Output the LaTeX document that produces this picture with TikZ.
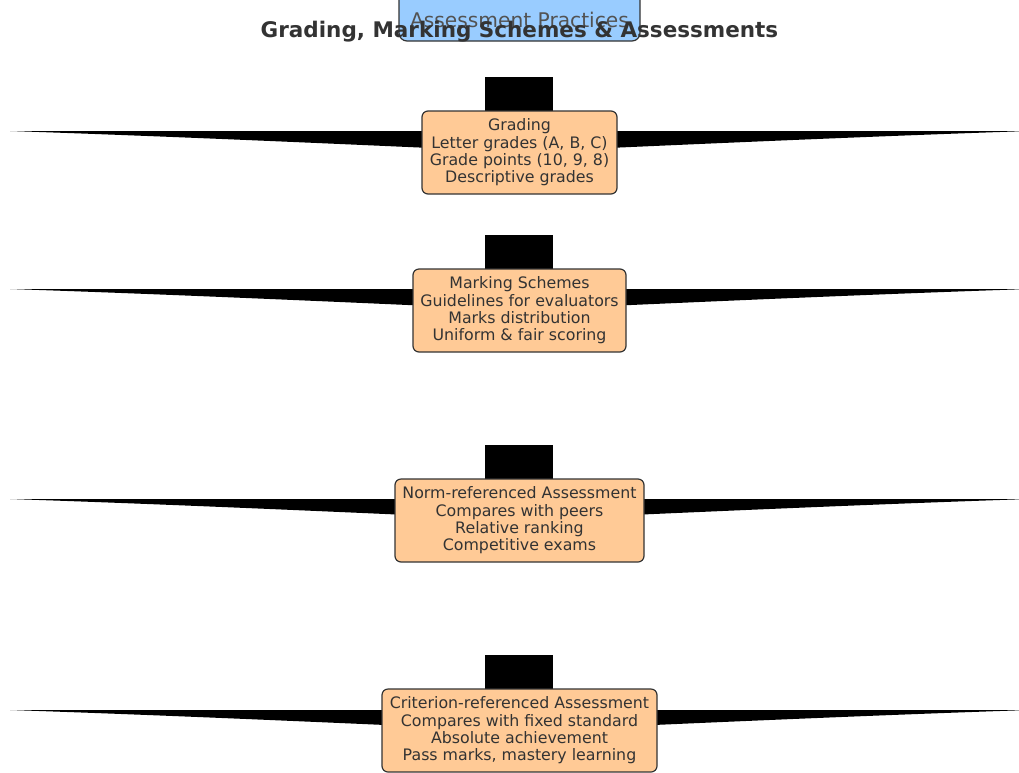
\documentclass[tikz,border=0pt]{standalone}
\usepackage{fontspec}
\setmainfont{DejaVu Sans}
\definecolor{boxorange}{HTML}{FFCA96}
\definecolor{boxblue}{HTML}{99CCFF}
\definecolor{txt}{HTML}{333333}
\begin{document}
\begin{tikzpicture}[x=1pt,y=-1pt,
  card/.style={draw=txt, line width=1.2pt, fill=boxorange, rounded corners=6pt,
    minimum height=83pt, inner sep=0pt, align=center, text=txt,
    font=\fontsize{15.8}{17.4}\selectfont},
  stem/.style={fill=black},
  wedge/.style={fill=black}]
\useasboundingbox (0,0) rectangle (1019,772);
\clip (0,0) rectangle (1019,772);
% wedges
\foreach \t in {131,289,499,710}{
  \fill[wedge] (10,\t) -- (519.5,\t) -- (519.5,\t+21) .. controls (320,\t+12) and (160,\t+5) .. (10,\t) -- cycle;
  \fill[wedge] (1029,\t) -- (519.5,\t) -- (519.5,\t+21) .. controls (719,\t+12) and (879,\t+5) .. (1029,\t) -- cycle;
}
% stems
\foreach \s in {77,235,445,655}{
  \fill[stem] (485,\s) rectangle (553,\s+34);
}
\node[card, minimum width=195pt] (grading) at (519.5,152.5) {Grading\\Letter grades (A, B, C)\\Grade points (10, 9, 8)\\Descriptive grades};
\node[card, minimum width=213pt] (marking) at (519.5,310.5) {Marking Schemes\\Guidelines for evaluators\\Marks distribution\\Uniform \& fair scoring};
\node[card, minimum width=249pt] (norm) at (519.5,520.5) {Norm-referenced Assessment\\Compares with peers\\Relative ranking\\Competitive exams};
\node[card, minimum width=275pt] (crit) at (519.5,730.5) {Criterion-referenced Assessment\\Compares with fixed standard\\Absolute achievement\\Pass marks, mastery learning};
% root box
\node[draw=txt, line width=1.2pt, fill=boxblue, rounded corners=8pt, minimum width=241pt, minimum height=70pt, inner sep=0pt] (root) at (519.5,6) {};
\node[text=txt!85!white, font=\fontsize{20.2}{22}\selectfont, inner sep=0pt] (rootlabel) at (519.5,20) {Assessment Practices};
\node[text=txt, font=\fontsize{21.5}{24}\bfseries, inner sep=0pt] (title) at (519.5,31.5) {Grading, Marking Schemes \& Assessments};
\end{tikzpicture}
\end{document}
